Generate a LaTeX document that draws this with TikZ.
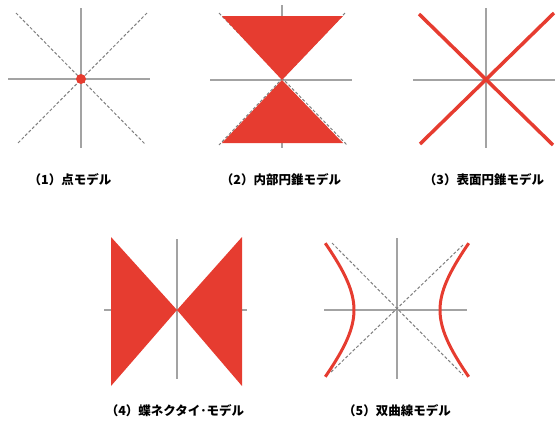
\documentclass[tikz,border=0pt]{standalone}
\usepackage{fontspec}
\newfontfamily\jpfont{Noto Sans CJK JP}
\definecolor{modelred}{HTML}{E63C30}
\definecolor{axisgray}{HTML}{A3A3A3}
\definecolor{dashgray}{HTML}{7F7F7F}
\begin{document}
\begin{tikzpicture}[x=1pt, y=-1pt,
    axis/.style={axisgray, line width=1.6pt},
    diag/.style={dashgray, line width=1pt, dash pattern=on 3pt off 2pt},
    redline/.style={modelred, line width=3.5pt},
    modelcap/.style={font=\jpfont\bfseries\fontsize{12.5}{14}\selectfont, inner sep=0pt}]
    \useasboundingbox (0,0) rectangle (560,421);

    % (1) point
    \draw[axis] (8,79) -- (150,79);
    \draw[axis] (81,8) -- (81,148);
    \draw[diag] (16,13) -- (145,144);
    \draw[diag] (147,13) -- (17,144);
    \fill[modelred] (81,79) circle (5);
    \node[modelcap] (cap1) at (70,180) {（1）点モデル};

    % (2) inner cone
    \draw[axis] (210,80) -- (352,80);
    \draw[axis] (282,5) -- (282,148);
    \draw[diag] (219,13) -- (347,145);
    \draw[diag] (345,13) -- (219,145);
    \fill[modelred] (222,16) -- (343,16) -- (282,80) -- cycle;
    \fill[modelred] (222,143) -- (343,143) -- (282,80) -- cycle;
    \node[modelcap] (cap2) at (281,180) {（2）内部円錐モデル};

    % (3) cone surface
    \draw[axis] (413,80) -- (555,80);
    \draw[axis] (486,8) -- (486,148);
    \draw[redline] (419,14) -- (553,145);
    \draw[redline] (554,13) -- (420,144);
    \node[modelcap] (cap3) at (484,180) {（3）表面円錐モデル};

    % (4) bow tie
    \draw[axis] (104,310) -- (247,310);
    \draw[axis] (177,239) -- (177,379);
    \fill[modelred] (111,237) -- (111,386) -- (177,310) -- cycle;
    \fill[modelred] (242,237) -- (242,386) -- (177,310) -- cycle;
    \node[modelcap] (cap4) at (175,411) {（4）蝶ネクタイ･モデル};

    % (5) hyperbola
    \draw[axis] (324,310) -- (467,310);
    \draw[axis] (397,238) -- (397,379);
    \draw[diag] (332,243) -- (463,375);
    \draw[diag] (463,245) -- (330,373);
    \draw[redline, line width=3pt] plot[domain=-1.1:1.1, samples=40, smooth]
        ({397-43*cosh(\x)}, {310+50*sinh(\x)});
    \draw[redline, line width=3pt] plot[domain=-1.1:1.1, samples=40, smooth]
        ({397+43*cosh(\x)}, {310+50*sinh(\x)});
    \node[modelcap] (cap5) at (397,411) {（5）双曲線モデル};
\end{tikzpicture}
\end{document}
